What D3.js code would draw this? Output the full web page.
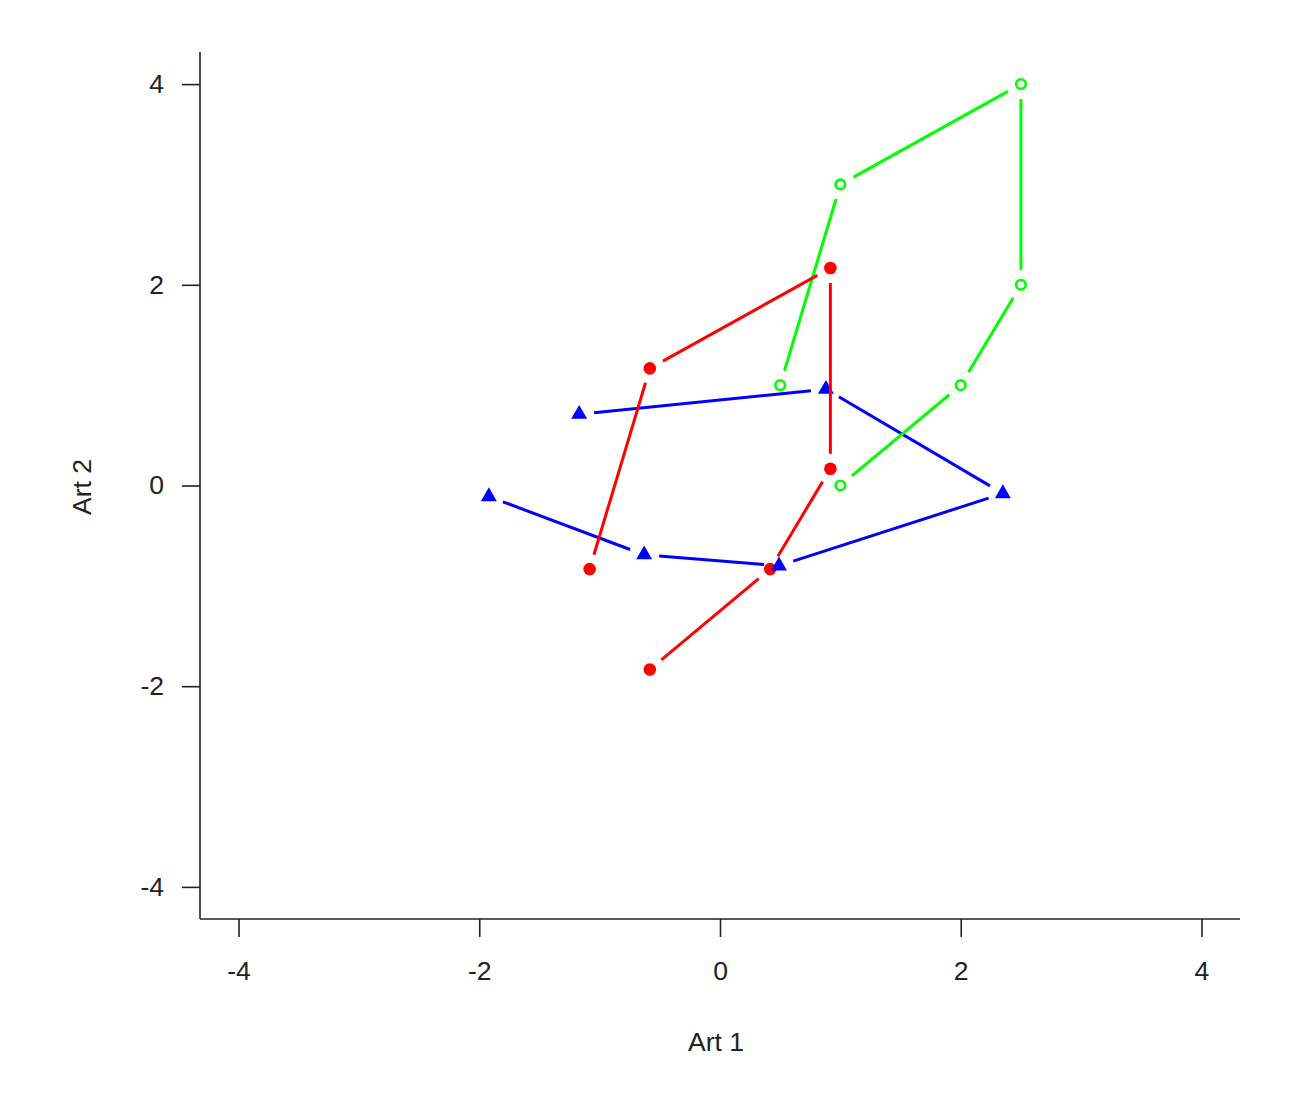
<!DOCTYPE html>
<html>
<head>
<meta charset="utf-8">
<script src="https://cdn.jsdelivr.net/npm/d3@7"></script>
<style>
  html, body { margin: 0; padding: 0; background: #ffffff; }
  svg { display: block; }
  text { font-family: "Liberation Sans", Arial, sans-serif; fill: #222; }
</style>
</head>
<body>
<svg id="chart" width="1304" height="1100"></svg>
<script>
// ---- data ----
const greenX = [0.5, 1, 2.5, 2.5, 2, 1];
const greenY = [1, 3, 4, 2, 1, 0];
const redX = [-1.083, -0.583, 0.917, 0.917, 0.417, -0.583];
const redY = [-0.833, 1.167, 2.167, 0.167, -0.833, -1.833];
const blueX = [-1.17, 0.88, 2.35, 0.49, -0.63, -1.92];
const blueY = [0.71, 0.96, -0.08, -0.80, -0.69, -0.11];
const tickValues = [-4, -2, 0, 2, 4];
const xLabel = "Art 1";
const yLabel = "Art 2";

const svg = d3.select("#chart");
const x = d3.scaleLinear().domain([-4.32, 4.32]).range([200, 1240]);
const y = d3.scaleLinear().domain([-4.32, 4.32]).range([919, 52]);

const toPts = (xs, ys) => xs.map((v, i) => [x(v), y(ys[i])]);
const green = toPts(greenX, greenY);
const red = toPts(redX, redY);
const blue = toPts(blueX, blueY);

// type = "b": segments with gaps around points
function gapSegments(pts, gap) {
  const segs = [];
  for (let i = 0; i < pts.length - 1; i++) {
    const [x0, y0] = pts[i], [x1, y1] = pts[i + 1];
    const dx = x1 - x0, dy = y1 - y0, L = Math.hypot(dx, dy);
    if (L > 2 * gap) {
      const f = gap / L;
      segs.push([x0 + dx * f, y0 + dy * f, x1 - dx * f, y1 - dy * f]);
    }
  }
  return segs;
}
function drawLines(pts, color) {
  svg.append("g").selectAll("line").data(gapSegments(pts, 15)).join("line")
    .attr("x1", d => d[0]).attr("y1", d => d[1])
    .attr("x2", d => d[2]).attr("y2", d => d[3])
    .attr("stroke", color).attr("stroke-width", 3);
}

// axes
const axisColor = "#222";
const fs = 26.5;
const fmt = d => String(d);
const ax = svg.append("g").attr("transform", "translate(0,919)");
ax.call(d3.axisBottom(x).tickValues(tickValues).tickSize(18).tickPadding(24).tickFormat(fmt));
const ay = svg.append("g").attr("transform", "translate(200,0)");
ay.call(d3.axisLeft(y).tickValues(tickValues).tickSize(18).tickPadding(18).tickFormat(fmt));
[ax, ay].forEach(g => {
  g.select(".domain").remove();
  g.selectAll("line").attr("stroke", axisColor).attr("stroke-width", 1.6);
  g.selectAll("text").attr("font-size", fs).attr("fill", "#222")
    .attr("font-family", "'Liberation Sans', Arial, sans-serif");
});
svg.append("line").attr("x1", 200).attr("x2", 1240).attr("y1", 919).attr("y2", 919)
  .attr("stroke", axisColor).attr("stroke-width", 1.6);
svg.append("line").attr("x1", 200).attr("x2", 200).attr("y1", 52).attr("y2", 919)
  .attr("stroke", axisColor).attr("stroke-width", 1.6);

svg.append("text").attr("x", 716).attr("y", 1051).attr("text-anchor", "middle")
  .attr("font-size", fs).text(xLabel);
svg.append("text").attr("transform", "translate(91,487) rotate(-90)")
  .attr("text-anchor", "middle").attr("font-size", fs).text(yLabel);

// marks
drawLines(blue, "#0000ff");
drawLines(green, "#00ff00");

svg.append("g").selectAll("circle").data(red).join("circle")
  .attr("cx", d => d[0]).attr("cy", d => d[1]).attr("r", 6.3).attr("fill", "#ff0000");
svg.append("g").selectAll("circle").data(green).join("circle")
  .attr("cx", d => d[0]).attr("cy", d => d[1]).attr("r", 4.8)
  .attr("fill", "none").attr("stroke", "#00ff00").attr("stroke-width", 2.6);
const tri = d3.symbol().type(d3.symbolTriangle).size(110);
svg.append("g").selectAll("path").data(blue).join("path")
  .attr("transform", d => `translate(${d[0]},${d[1]})`)
  .attr("d", tri).attr("fill", "#0000ff");

drawLines(red, "#ff0000");
</script>
</body>
</html>
